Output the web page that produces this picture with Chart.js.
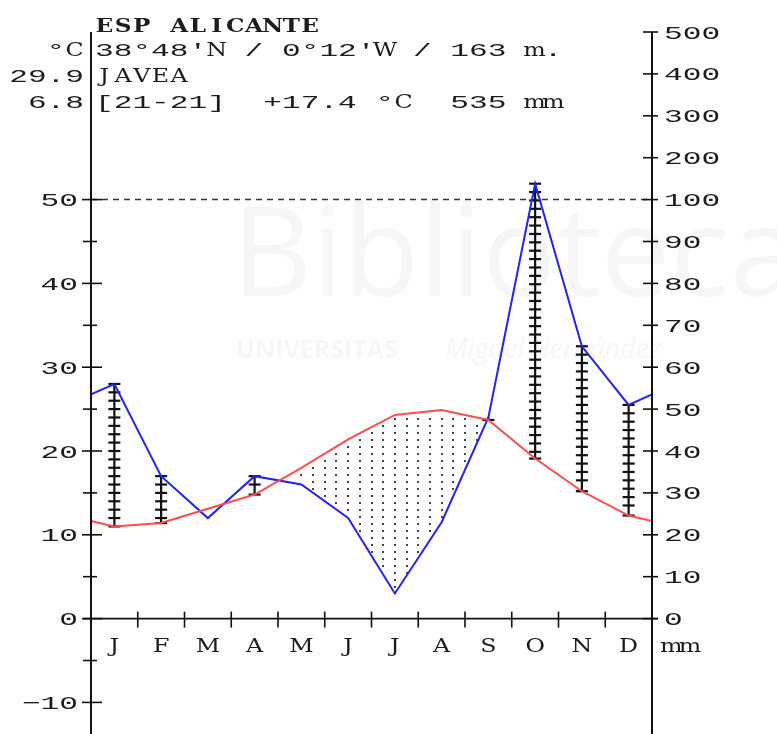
<!DOCTYPE html>
<html>
<head>
<meta charset="utf-8">
<script src="https://cdn.jsdelivr.net/npm/chart.js@4"></script>
<style>
  html, body { margin: 0; padding: 0; background: #fff; overflow: hidden; }
  canvas { display: block; }
</style>
</head>
<body>
<canvas id="diagram" width="777" height="734"></canvas>
<script>
// Climate diagram (Walter–Lieth style) for Jávea, Alicante
const months = ['J', 'F', 'M', 'A', 'M', 'J', 'J', 'A', 'S', 'O', 'N', 'D'];
const tempC = [11.0, 11.4, 13.1, 14.8, 18.0, 21.4, 24.3, 24.9, 23.7, 19.1, 15.2, 12.3];
const precipMm = [56, 34, 24, 34, 32, 24, 6, 23, 48, 138, 65, 51];

const tempTickLabels = [-10, 0, 10, 20, 30, 40, 50];
const precipTickLabels = [0, 10, 20, 30, 40, 50, 60, 70, 80, 90, 100, 200, 300, 400, 500];

const stationTitle = 'ESP ALICANTE';
const stationCoords = "38°48'N / 0°12'W / 163 m.";
const stationName = 'JAVEA';
const stationSummary = '[21-21]  +17.4 °C  535 mm';
const sideLabels = ['°C', '29.9', '6.8'];
const unitLabel = 'mm';

// precipitation in diagram units: 2 mm per °C up to 100 mm, 20 mm per °C above
function precipUnits(p) {
  return p <= 100 ? p / 2 : 50 + (p - 100) / 20;
}

// monthly points at month centres, closed at both edges with the Dec/Jan mean
function monthlyPoints(vals) {
  const edge = (vals[0] + vals[vals.length - 1]) / 2;
  const pts = [{ x: 0, y: edge }];
  vals.forEach((v, i) => pts.push({ x: i + 0.5, y: v }));
  pts.push({ x: 12, y: edge });
  return pts;
}

const precipU = precipMm.map(precipUnits);
const tempPts = monthlyPoints(tempC);
const precipPts = monthlyPoints(precipU);

function interp(pts, x) {
  for (let i = 0; i < pts.length - 1; i++) {
    const a = pts[i], b = pts[i + 1];
    if (x >= a.x && x <= b.x) {
      return a.y + (b.y - a.y) * (x - a.x) / (b.x - a.x);
    }
  }
  return pts[pts.length - 1].y;
}

// typewriter-style text: every character sits in a fixed-width cell
const CELL = 18.7;
const MONO = '"Liberation Mono", monospace';
const SERIF = '"DejaVu Serif", serif';

function drawText(ctx, s, x, y, align, bold) {
  const chars = Array.from(s);
  const total = chars.length * CELL;
  let start = x;
  if (align === 'right') start = x - total;
  else if (align === 'center') start = x - total / 2;
  ctx.save();
  ctx.fillStyle = '#1c1c1c';
  ctx.textAlign = 'center';
  ctx.textBaseline = 'alphabetic';
  chars.forEach((ch, i) => {
    if (ch === ' ') return;
    const cx = start + (i + 0.5) * CELL;
    const letter = /[A-Za-z]/.test(ch);
    ctx.save();
    ctx.translate(cx, y);
    if (letter) {
      ctx.scale(bold ? 1.22 : 1.32, 1);
      ctx.font = (bold ? 'bold 19px ' : '18px ') + SERIF;
    } else {
      ctx.scale(1.64, 1);
      ctx.font = (bold ? 'bold ' : '') + '19px ' + MONO;
    }
    ctx.fillText(ch, 0, 0);
    ctx.restore();
  });
  ctx.restore();
}

function line(ctx, x1, y1, x2, y2) {
  ctx.beginPath();
  ctx.moveTo(x1, y1);
  ctx.lineTo(x2, y2);
  ctx.stroke();
}

const climatePlugin = {
  id: 'climate',
  beforeDatasetsDraw(chart) {
    const ctx = chart.ctx;
    const xs = chart.scales.x, ys = chart.scales.y;
    const area = chart.chartArea;

    // faint library watermark
    ctx.save();
    ctx.fillStyle = 'rgba(0,0,0,0.035)';
    ctx.font = '124px "Open Sans", sans-serif';
    ctx.textBaseline = 'alphabetic';
    ctx.fillText('Biblioteca', 232, 296);
    ctx.font = 'bold 25px "Open Sans", sans-serif';
    ctx.fillText('UNIVERSITAS', 236, 358);
    ctx.font = 'italic 27px "Open Sans", sans-serif';
    ctx.fillText('Miguel Hernández', 445, 358);
    ctx.restore();

    // 100 mm reference line
    ctx.save();
    ctx.strokeStyle = '#333';
    ctx.lineWidth = 1.5;
    ctx.setLineDash([6, 5]);
    const y100 = ys.getPixelForValue(precipUnits(100));
    line(ctx, area.left, y100, area.right, y100);
    ctx.restore();

    // dry period: dotted between temperature and precipitation curves
    ctx.save();
    ctx.fillStyle = '#444';
    const y0 = ys.getPixelForValue(0);
    for (let k = 0; k <= 48; k++) {
      const xv = k * 0.25;
      const tv = interp(tempPts, xv), pv = interp(precipPts, xv);
      if (tv <= pv) continue;
      const px = xs.getPixelForValue(xv);
      const yT = ys.getPixelForValue(tv), yP = ys.getPixelForValue(pv);
      for (let py = y0 - 4; py > area.top; py -= 7) {
        if (py > yT + 3 && py < yP - 3) ctx.fillRect(Math.round(px) - 1, Math.round(py) - 1, 2, 2);
      }
    }
    ctx.restore();

    // humid period: hatched vertical bars at month centres
    ctx.save();
    ctx.strokeStyle = '#111';
    ctx.lineWidth = 2.2;
    precipU.forEach((pu, i) => {
      const t = tempC[i];
      if (pu <= t) return;
      const px = xs.getPixelForValue(i + 0.5);
      const top = ys.getPixelForValue(pu), bot = ys.getPixelForValue(t);
      line(ctx, px, top, px, bot);
      for (let v = pu; v > t + 0.3; v -= 1) {
        const py = ys.getPixelForValue(v);
        line(ctx, px - 6, py, px + 6, py);
      }
      line(ctx, px - 6, bot, px + 6, bot);
    });
    ctx.restore();
  },
  afterDatasetsDraw(chart) {
    const ctx = chart.ctx;
    const xs = chart.scales.x, ys = chart.scales.y;
    const area = chart.chartArea;
    const L = area.left, R = area.right;
    const y0 = ys.getPixelForValue(0);

    ctx.save();
    ctx.strokeStyle = '#111';
    ctx.lineWidth = 2;
    // axes
    line(ctx, L, area.top, L, chart.height);
    line(ctx, R, area.top, R, chart.height);
    // zero line with month boundaries
    ctx.lineWidth = 1.6;
    line(ctx, L - 8, y0, R + 6, y0);
    for (let m = 1; m < 12; m++) {
      const px = xs.getPixelForValue(m);
      line(ctx, px, y0 - 7, px, y0 + 9);
    }
    // left temperature ticks every 5 °C
    for (let v = -10; v <= 50; v += 5) {
      const py = ys.getPixelForValue(v);
      if (v % 10 === 0) line(ctx, L - 9, py, L + 11, py);
      else line(ctx, L - 8, py, L + 6, py);
    }
    // right precipitation ticks
    precipTickLabels.forEach(p => {
      const py = ys.getPixelForValue(precipUnits(p));
      line(ctx, R - 9, py, R + 6, py);
    });
    ctx.restore();

    // axis labels
    tempTickLabels.forEach(v => {
      drawText(ctx, String(v).replace('-', '\u2212'), 78, ys.getPixelForValue(v) + 6.5, 'right');
    });
    precipTickLabels.forEach(p => {
      drawText(ctx, String(p), 664, ys.getPixelForValue(precipUnits(p)) + 6.5, 'left');
    });
    months.forEach((m, i) => {
      drawText(ctx, m, xs.getPixelForValue(i + 0.5), y0 + 33, 'center', false);
    });
    drawText(ctx, unitLabel, 662, y0 + 33, 'left');

    // header
    drawText(ctx, stationTitle, 95, 32, 'left', true);
    drawText(ctx, stationCoords, 95, 56, 'left');
    drawText(ctx, stationName, 95, 82, 'left');
    drawText(ctx, stationSummary, 95, 108, 'left');
    sideLabels.forEach((s, i) => drawText(ctx, s, 84, 56 + 26 * i, 'right'));
  }
};

new Chart(document.getElementById('diagram'), {
  type: 'line',
  data: {
    datasets: [
      { data: tempPts, borderColor: '#ff4d4d', borderWidth: 2, pointRadius: 0, tension: 0, fill: false },
      { data: precipPts, borderColor: '#2424f0', borderWidth: 2, pointRadius: 0, tension: 0, fill: false }
    ]
  },
  options: {
    responsive: false,
    animation: false,
    devicePixelRatio: 1,
    layout: { padding: { left: 91, right: 125, top: 32, bottom: 0 } },
    plugins: { legend: { display: false }, tooltip: { enabled: false } },
    scales: {
      x: { type: 'linear', min: 0, max: 12, display: false },
      y: { type: 'linear', min: -13.77, max: 70, display: false }
    }
  },
  plugins: [climatePlugin]
});
</script>
</body>
</html>
